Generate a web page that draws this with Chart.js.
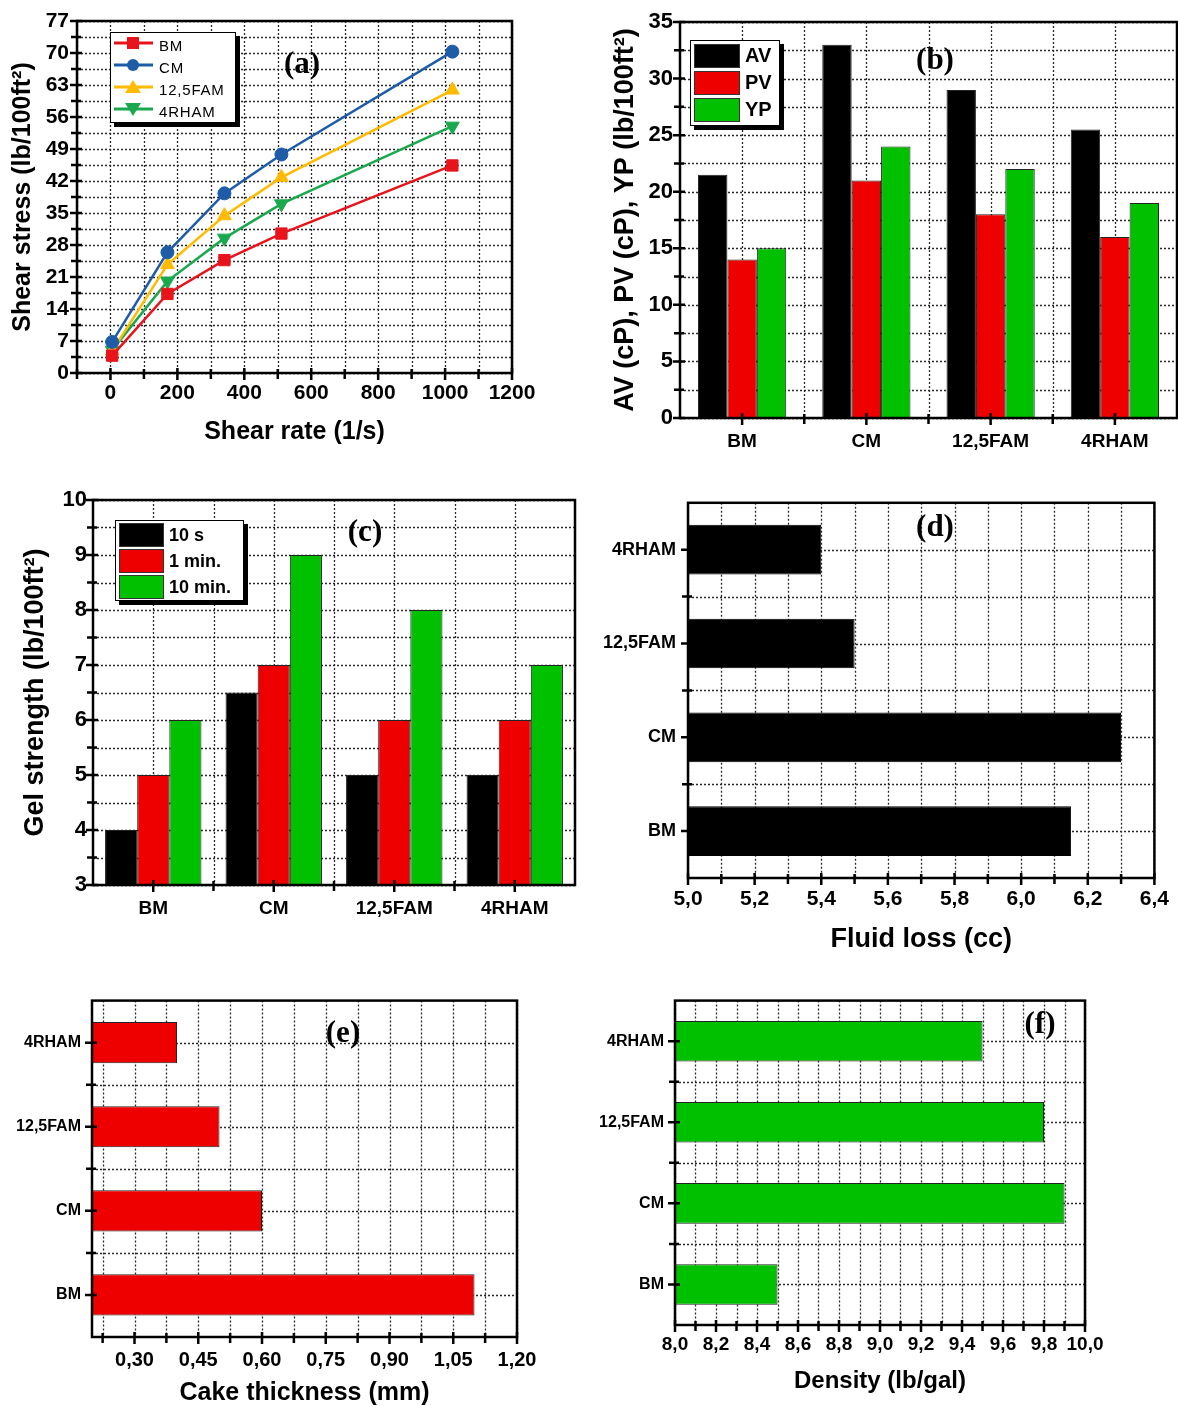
<!DOCTYPE html>
<html>
<head>
<meta charset="utf-8">
<script src="https://cdn.jsdelivr.net/npm/chart.js@4.4.0/dist/chart.umd.min.js"></script>
<style>
  body { margin: 0; background: #fff; width: 1178px; height: 1406px; position: relative; overflow: hidden;
         font-family: "Liberation Sans", Arial, Helvetica, sans-serif; }
  canvas { position: absolute; }
  .tag { position: absolute; font-family: "Liberation Serif", "Times New Roman", serif; font-weight: bold;
         font-size: 31px; transform: translate(-50%, -50%); line-height: 1; }
  .legend { position: absolute; background: #fff; border: 1.5px solid #000; box-shadow: 4px 4px 0 #000;
            box-sizing: border-box; padding-top: 1px; }
  .row { display: flex; align-items: center; }
  .patch { box-sizing: border-box; border: 1px solid #333; margin-left: 3px; }
</style>
</head>
<body>
<canvas id="cA" style="left:0;top:0" width="560" height="460"></canvas>
<canvas id="cB" style="left:590px;top:0" width="588" height="460"></canvas>
<canvas id="cC" style="left:0;top:480px" width="590" height="480"></canvas>
<canvas id="cD" style="left:590px;top:480px" width="588" height="480"></canvas>
<canvas id="cE" style="left:0;top:980px" width="590" height="426"></canvas>
<canvas id="cF" style="left:590px;top:980px" width="588" height="426"></canvas>

<div class="legend" id="legA" style="left:110px;top:32px;width:126px;height:91px"></div>
<div class="legend" id="legB" style="left:690px;top:40px;width:90px;height:86px"></div>
<div class="legend" id="legC" style="left:115px;top:520px;width:129px;height:81px"></div>

<div class="tag" style="left:302px;top:62px">(a)</div>
<div class="tag" style="left:935px;top:58px">(b)</div>
<div class="tag" style="left:365px;top:530px">(c)</div>
<div class="tag" style="left:935px;top:525px">(d)</div>
<div class="tag" style="left:343px;top:1031px">(e)</div>
<div class="tag" style="left:1040px;top:1022px">(f)</div>

<script>
// ---- data ----
const shearRate = [5.1, 170.3, 340.6, 510.9, 1021.8];
const stressBM = [3.8, 17.3, 24.7, 30.5, 45.4];
const stressCM = [6.8, 26.4, 39.3, 47.8, 70.3];
const stressFAM = [4.8, 23.7, 34.4, 42.8, 61.9];
const stressRHAM = [5.0, 20.1, 29.5, 37.0, 54.0];

const muds = ['BM', 'CM', '12,5FAM', '4RHAM'];
const avValues = [21.5, 33, 29, 25.5];
const pvValues = [14, 21, 18, 16];
const ypValues = [15, 24, 22, 19];

const gel10s = [4, 6.5, 5, 5];
const gel1min = [5, 7, 6, 6];
const gel10min = [6, 9, 8, 7];

const fluidLoss = [6.15, 6.3, 5.5, 5.4];
const cakeThickness = [1.1, 0.6, 0.5, 0.4];
const density = [8.5, 9.9, 9.8, 9.5];

// ---- tick positions ----
const rateTicks = [0, 200, 400, 600, 800, 1000, 1200];
const rateMinor = [-100, 100, 300, 500, 700, 900, 1100];
const stressTicks = [0, 7, 14, 21, 28, 35, 42, 49, 56, 63, 70, 77];
const stressMinor = [3.5, 10.5, 17.5, 24.5, 31.5, 38.5, 45.5, 52.5, 59.5, 66.5, 73.5];
const rheoTicks = [0, 5, 10, 15, 20, 25, 30, 35];
const rheoMinor = [2.5, 7.5, 12.5, 17.5, 22.5, 27.5, 32.5];
const gelTicks = [3, 4, 5, 6, 7, 8, 9, 10];
const gelMinor = [3.5, 4.5, 5.5, 6.5, 7.5, 8.5, 9.5];
const lossTicks = [5.0, 5.2, 5.4, 5.6, 5.8, 6.0, 6.2, 6.4];
const lossMinor = [5.1, 5.3, 5.5, 5.7, 5.9, 6.1, 6.3];
const cakeTicks = [0.30, 0.45, 0.60, 0.75, 0.90, 1.05, 1.20];
const cakeMinor = [0.225, 0.375, 0.525, 0.675, 0.825, 0.975, 1.125];
const densTicks = [8.0, 8.2, 8.4, 8.6, 8.8, 9.0, 9.2, 9.4, 9.6, 9.8, 10.0];
const densMinor = [8.1, 8.3, 8.5, 8.7, 8.9, 9.1, 9.3, 9.5, 9.7, 9.9];

const catCenters = muds.map((m, i) => i);
const catBounds = muds.slice(1).map((m, i) => i + 0.5);

const RED = '#ee0000', GREEN = '#00c000', BLACK = '#000000';

Chart.defaults.font.family = '"Liberation Sans", Arial, Helvetica, sans-serif';
Chart.defaults.font.weight = 'bold';
Chart.defaults.color = '#000';
Chart.defaults.animation = false;
Chart.defaults.plugins.legend.display = false;
Chart.defaults.plugins.tooltip.enabled = false;

// Origin-style frame, dotted grid and crossing tick marks
const originFrame = {
  id: 'originFrame',
  beforeDatasetsDraw(chart, args, o) {
    const {ctx, chartArea: a, scales: {x, y}} = chart;
    ctx.save();
    ctx.strokeStyle = '#2a2a2a';
    ctx.lineWidth = 1.3;
    ctx.setLineDash([2, 2]);
    ctx.beginPath();
    (o.xGrid || []).forEach(v => {
      const px = Math.round(x.getPixelForValue(v)) + 0.5;
      ctx.moveTo(px, a.top); ctx.lineTo(px, a.bottom);
    });
    (o.yGrid || []).forEach(v => {
      const py = Math.round(y.getPixelForValue(v)) + 0.5;
      ctx.moveTo(a.left, py); ctx.lineTo(a.right, py);
    });
    ctx.stroke();
    ctx.restore();
  },
  afterDraw(chart, args, o) {
    const {ctx, chartArea: a, scales: {x, y}} = chart;
    ctx.save();
    ctx.strokeStyle = '#000';
    ctx.lineWidth = 2.5;
    ctx.strokeRect(a.left, a.top, a.right - a.left, a.bottom - a.top);
    ctx.beginPath();
    const tx = (list, out, inn) => list.forEach(v => {
      const px = x.getPixelForValue(v);
      ctx.moveTo(px, a.bottom + out); ctx.lineTo(px, a.bottom - inn);
    });
    const ty = (list, out, inn) => list.forEach(v => {
      const py = y.getPixelForValue(v);
      ctx.moveTo(a.left - out, py); ctx.lineTo(a.left + inn, py);
    });
    tx(o.xMajor || [], 7, 5); tx(o.xMinor || [], 6, 4);
    ty(o.yMajor || [], 7, 5); ty(o.yMinor || [], 6, 4);
    ctx.stroke();
    ctx.restore();
  }
};
Chart.register(originFrame);

const comma = d => v => Number(v).toFixed(d).replace('.', ',');
const fixTicks = list => scale => { scale.ticks = list.map(v => ({value: v})); };

function valueScale(min, max, ticks, fmt, size, pad, boxFit) {
  return {
    type: 'linear', min, max,
    grid: {display: false, drawTicks: false},
    border: {display: false},
    afterBuildTicks: fixTicks(ticks),
    afterFit: boxFit,
    ticks: {callback: fmt, font: {size}, padding: pad, autoSkip: false, maxRotation: 0}
  };
}
function catScale(size, pad, boxFit, reverse) {
  return {
    type: 'category', reverse: !!reverse,
    grid: {display: false, drawTicks: false, offset: true},
    border: {display: false},
    afterFit: boxFit,
    ticks: {font: {size}, padding: pad, autoSkip: false, maxRotation: 0}
  };
}
const title = (text, size, pad, lh) => ({display: true, text, font: {size, lineHeight: lh || 1.2}, padding: pad});

// ---- (a) shear stress vs shear rate ----
const flowSeries = [
  {label: 'BM', values: stressBM, color: '#e8141c', style: 'rect', r: 8, rot: 0},
  {label: 'CM', values: stressCM, color: '#1f5ca8', style: 'circle', r: 6.5, rot: 0},
  {label: '12,5FAM', values: stressFAM, color: '#ffbb00', style: 'triangle', r: 8, rot: 0},
  {label: '4RHAM', values: stressRHAM, color: '#1aa84f', style: 'triangle', r: 8, rot: 180}
];
const chartA = new Chart(document.getElementById('cA'), {
  type: 'line',
  data: {
    datasets: flowSeries.map(s => ({
      label: s.label,
      data: shearRate.map((x, i) => ({x, y: s.values[i]})),
      borderColor: s.color, backgroundColor: s.color,
      borderWidth: 2.5, pointStyle: s.style, pointRadius: s.r, pointRotation: s.rot,
      pointBorderWidth: 1, tension: 0, clip: false
    }))
  },
  options: {
    responsive: false,
    layout: {padding: {top: 21, right: 48, left: 0, bottom: 0}},
    scales: {
      x: Object.assign(valueScale(-100, 1200, rateTicks, v => v, 21, 8, s => { s.height = 87; }),
        {title: title('Shear rate (1/s)', 25, {bottom: 13})}),
      y: Object.assign(valueScale(0, 77, stressTicks, v => v, 21, 8, s => { s.width = 77; }),
        {title: title('Shear stress (lb/100ft\u00B2)', 25, {top: 8})})
    },
    plugins: {originFrame: {
      xGrid: rateTicks.concat(rateMinor), yGrid: stressTicks.concat(stressMinor),
      xMajor: rateTicks, xMinor: rateMinor, yMajor: stressTicks, yMinor: stressMinor
    }}
  }
});

// ---- (b) AV, PV, YP ----
const chartB = new Chart(document.getElementById('cB'), {
  type: 'bar',
  data: {
    labels: muds,
    datasets: [
      {label: 'AV', data: avValues, backgroundColor: BLACK},
      {label: 'PV', data: pvValues, backgroundColor: RED},
      {label: 'YP', data: ypValues, backgroundColor: GREEN}
    ].map(d => Object.assign(d, {borderColor: '#222', borderWidth: 1, categoryPercentage: 0.71, barPercentage: 1}))
  },
  options: {
    responsive: false,
    layout: {padding: {top: 22, right: 1, left: 0, bottom: 0}},
    scales: {
      x: catScale(19, 12, s => { s.height = 42; }),
      y: Object.assign(valueScale(0, 35, rheoTicks, v => v, 22, 7, s => { s.width = 90; }),
        {title: title('AV (cP), PV (cP), YP (lb/100ft\u00B2)', 27, {top: 19})})
    },
    plugins: {originFrame: {
      xGrid: catCenters.concat(catBounds), yGrid: rheoTicks.concat(rheoMinor),
      xMajor: catCenters, xMinor: catBounds, yMajor: rheoTicks, yMinor: rheoMinor
    }}
  }
});

// ---- (c) gel strength ----
const chartC = new Chart(document.getElementById('cC'), {
  type: 'bar',
  data: {
    labels: muds,
    datasets: [
      {label: '10 s', data: gel10s, backgroundColor: BLACK},
      {label: '1 min.', data: gel1min, backgroundColor: RED},
      {label: '10 min.', data: gel10min, backgroundColor: GREEN}
    ].map(d => Object.assign(d, {borderColor: '#222', borderWidth: 1, categoryPercentage: 0.8, barPercentage: 1, base: 3}))
  },
  options: {
    responsive: false,
    layout: {padding: {top: 20, right: 15, left: 0, bottom: 0}},
    scales: {
      x: catScale(19, 12, s => { s.height = 75; }),
      y: Object.assign(valueScale(3, 10, gelTicks, v => v, 22, 6, s => { s.width = 93; }),
        {title: title('Gel strength (lb/100ft\u00B2)', 27, {top: 19})})
    },
    plugins: {originFrame: {
      xGrid: catCenters.concat(catBounds), yGrid: gelTicks.concat(gelMinor),
      xMajor: catCenters, xMinor: catBounds, yMajor: gelTicks, yMinor: gelMinor
    }}
  }
});

// ---- horizontal bar panels (d), (e), (f) ----
function hbar(id, values, color, border, thick, xmin, xmax, ticks, minor, fmt, o) {
  return new Chart(document.getElementById(id), {
    type: 'bar',
    data: {labels: muds, datasets: [{data: values, backgroundColor: color, borderColor: border,
      borderWidth: 1, categoryPercentage: thick, barPercentage: 1, base: xmin}]},
    options: {
      indexAxis: 'y',
      responsive: false,
      layout: {padding: {top: o.top, right: o.right, left: 0, bottom: 0}},
      scales: {
        x: Object.assign(valueScale(xmin, xmax, ticks, fmt, o.xFont, o.xPad, s => { s.height = o.xH; }),
          {title: title(o.title, o.tFont, {bottom: o.tPad}, o.tLh)}),
        y: catScale(o.yFont, o.yPad, s => { s.width = o.yW; }, true)
      },
      plugins: {originFrame: {
        xGrid: ticks.concat(minor), yGrid: catCenters.concat(catBounds),
        xMajor: ticks, xMinor: minor, yMajor: catCenters, yMinor: catBounds
      }}
    }
  });
}

const chartD = hbar('cD', fluidLoss, BLACK, BLACK, 0.53, 5.0, 6.4, lossTicks, lossMinor, comma(1),
  {top: 18, right: 23, xH: 82, yW: 98, xFont: 21, xPad: 9, yFont: 18, yPad: 12,
   title: 'Fluid loss (cc)', tFont: 27, tPad: 4});
const chartE = hbar('cE', cakeThickness, RED, '#222', 0.49, 0.2, 1.2, cakeTicks, cakeMinor, comma(2),
  {top: 15, right: 73, xH: 69, yW: 92, xFont: 20, xPad: 11, yFont: 16, yPad: 11,
   title: 'Cake thickness (mm)', tFont: 25, tPad: 0, tLh: 1});
const chartF = hbar('cF', density, GREEN, '#222', 0.5, 8.0, 10.0, densTicks, densMinor, comma(1),
  {top: 13, right: 93, xH: 81, yW: 85, xFont: 19, xPad: 8, yFont: 16, yPad: 11,
   title: 'Density (lb/gal)', tFont: 24, tPad: 10});

// ---- legends built from the chart datasets ----
function markerSvg(s) {
  const c = s.color;
  let shape = '';
  if (s.style === 'rect') shape = `<rect x="14" y="4" width="12" height="12" fill="${c}"/>`;
  else if (s.style === 'circle') shape = `<circle cx="20" cy="10" r="6" fill="${c}"/>`;
  else if (s.rot === 180) shape = `<polygon points="12,4 28,4 20,17" fill="${c}"/>`;
  else shape = `<polygon points="20,3 28,16 12,16" fill="${c}"/>`;
  return `<svg width="42" height="20" style="margin-left:2px"><line x1="1" y1="10" x2="40" y2="10" stroke="${c}" stroke-width="3"/>${shape}</svg>`;
}
document.getElementById('legA').innerHTML = flowSeries.map(s =>
  `<div class="row" style="height:22px"><span>${markerSvg(s)}</span>` +
  `<span style="font-size:15px;letter-spacing:0.8px;margin-left:4px">${s.label}</span></div>`).join('');

function patchLegend(id, chart, rowH, pw, ph, fs) {
  document.getElementById(id).innerHTML = chart.data.datasets.map(d =>
    `<div class="row" style="height:${rowH}px"><div class="patch" style="width:${pw}px;height:${ph}px;background:${d.backgroundColor}"></div>` +
    `<span style="font-weight:bold;font-size:${fs}px;margin-left:5px">${d.label}</span></div>`).join('');
}
patchLegend('legB', chartB, 27, 46, 24, 20);
patchLegend('legC', chartC, 26, 45, 24, 18);
</script>
</body>
</html>
